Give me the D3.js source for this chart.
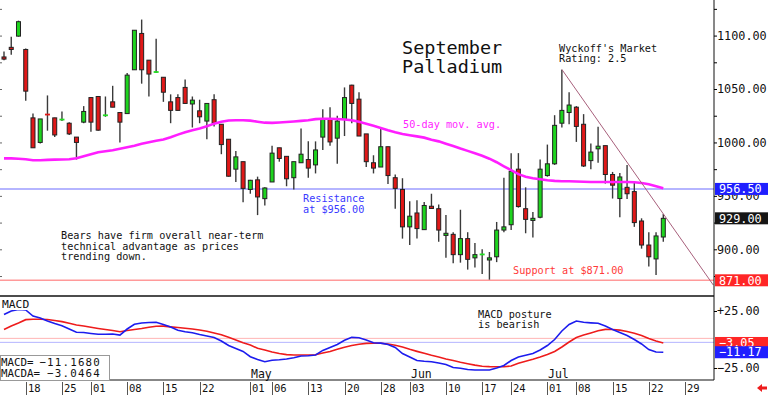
<!DOCTYPE html>
<html>
<head>
<meta charset="utf-8">
<script src="https://cdn.jsdelivr.net/npm/d3@7"></script>
<style>
  body { margin: 0; background: #fff; }
  svg { display: block; }
  text { font-family: "DejaVu Sans Mono", monospace; }
</style>
</head>
<body>
<div id="chart"></div>
<script>
// September Palladium daily candles, 50-day MA, MACD

const opens = [1080,1089,1099.5,1087,1023,1000,1026.2,1023,1021.5,1018,
  1005,1019,1042,1043,1025.5,1038,1028,1027,1068,1102,
  1077,1066,1061,1038,1042,1051.5,1036,1029.6,1020,1040,
  1017,1003,975,982,956,965,947.4,963,995,987,
  967,981,984,979,1005,1022,1004,1021.5,1053.6,1040.5,
  1008,981,977,996,967,956,921,934,918.4,940.3,
  938,913,914,895,910,892,895.3,890,893,918,
  923,975,938,927,930,969,980,1018,1028,1033,
  1017,983,994,997,970,947.5,958,954,926.5,904,
  891,911.5];
const highs = [1085,1099,1114,1088,1027,1022,1044,1023,1029,1019,
  1005,1034,1042,1043,1043,1053,1028,1065,1105,1115,
  1077,1097,1061,1045,1045,1059,1043,1040,1036.5,1045,
  1017,1003,992,982,965,968,958,997,995,987,
  982,1013,1001,1001,1031,1033,1025,1051.5,1054,1047,
  1008,988,1013,996,970,966.5,945,946,944.3,952,
  942,932,916,937,916,906,900,897.5,925.6,967,
  990,990,958,935,984,998,1025.5,1068,1047,1034,
  1026.5,999,1014.6,997,972.4,971.5,979,963,929,916,
  916,933];
const lows = [1077,1082,1099,1039,995,999,1011,1005,1020,1007,
  984,1018,1010,1011,1024,1033,1000,1027,1068,1055,
  1043,1065,1038,1018,1030,1036.5,1014,1018,1003,1015,
  989,968,963,944,952,932,941,963,982,959,
  956,981,967,971,993,997,980,1006,1018,1006,
  977,971,977,961,938,910,904,910,918,938,
  907,892,887,887.5,881,883,877,871.6,888,916,
  918,939,915,911,929,968,979,1014,1017,1000.5,
  977,975,981,961.5,947.5,930,947,921,900.6,884,
  876,907];
const closes = [1078,1087,1113,1048,995,1022,1026,1007,1021.5,1008,
  1000,1029,1019,1011.5,1025.5,1033,1019,1063,1105,1068,
  1064,1066,1047,1030,1030,1036.5,1039.6,1024,1036.5,1018,
  998,968.4,986.5,957,964.6,949,957.4,990,985,966,
  982,989,976,993,1022,1000.5,1020,1042,1036.5,1006,
  982,976,996,969,957,921,931,919.4,941,938.2,
  918,915,895,910,890.6,895,895.3,892,918,921,
  973,940,928,929,975,980,1016,1030,1035,1015,
  978,991,996.5,970,960,967.7,952,925,904,893,
  912.5,929];

const ma50 = [985.1,985.1,984.8,984.3,983.4,983.4,983.7,983.9,984.0,984.3,
  985.2,987.1,989.0,990.9,991.8,992.7,994.1,995.5,997.0,998.8,
  1000.2,1001.6,1002.8,1004.9,1007.3,1009.6,1011.5,1013.1,1015.2,1017.6,
  1019.4,1020.6,1020.8,1020.8,1020.4,1019.4,1018.5,1018.3,1018.7,1019.1,
  1019.6,1020.2,1020.8,1021.8,1022.2,1022.2,1022.0,1021.5,1020.8,1019.4,
  1017.6,1015.7,1013.6,1011.5,1009.6,1007.9,1006.8,1005.7,1004.5,1002.6,
  1001.0,998.8,996.7,994.3,992.1,989.9,987.6,984.8,981.5,977.7,
  974.0,970.3,967.9,966.5,965.6,964.6,964.0,963.7,963.7,963.5,
  963.2,963.0,963.0,963.0,963.0,963.0,963.0,962.8,962.0,960.9,
  959.0,957.2];

const macdLine = [21.9,25.0,26.3,25.9,20.6,18.9,16.2,14.0,12.0,9.2,
  6.4,6.1,5.3,4.6,4.6,4.8,3.9,9.2,13.3,14.5,
  14.9,15.1,13.2,11.0,8.1,6.8,5.9,4.4,3.1,1.8,
  -1.3,-5.3,-7.9,-10.5,-15.1,-17.5,-19.5,-18.2,-17.8,-17.1,
  -16.0,-14.5,-14.2,-13.6,-9.6,-7.0,-4.4,-0.7,1.9,1.6,
  -0.4,-2.8,-3.2,-4.4,-7.0,-12.3,-15.4,-18.4,-19.1,-19.5,
  -20.6,-21.9,-24.6,-25.2,-26.3,-26.8,-26.8,-26.8,-25.0,-22.8,
  -18.4,-15.4,-13.9,-12.3,-9.2,-5.3,0,7.5,13.2,16.2,
  15.1,14.6,14.2,11.8,8.8,6.1,3.5,0,-3.9,-8.8,
  -11.0,-11.17];
const macdSignal = [8.8,11.8,14.5,17.4,17.7,17.7,17.5,16.7,15.7,14.2,
  12.7,11.8,10.7,9.7,8.8,7.9,6.8,7.9,8.8,9.6,
  10.7,11.6,11.7,11.1,10.5,9.8,9.2,8.3,7.2,5.7,
  4.2,1.9,-0.4,-2.9,-4.8,-7.7,-9.2,-11.0,-12.3,-13.3,
  -13.6,-13.6,-13.6,-13.4,-11.8,-10.5,-8.6,-6.8,-5.3,-4.1,
  -3.4,-3.3,-3.3,-3.9,-5.0,-6.6,-8.6,-10.4,-12.1,-13.9,
  -15.4,-17.1,-18.4,-20.0,-21.3,-22.5,-23.4,-23.8,-23.9,-23.9,
  -23.2,-20.9,-19.0,-17.3,-15.4,-13.2,-10.5,-6.6,-2.2,1.8,
  3.9,5.7,7.6,8.9,8.8,8.2,7.0,5.4,3.5,0.9,
  -1.3,-3.05];

const priceTicks = [900, 950, 1000, 1050, 1100];
const priceMinorTicks = [875, 900, 925, 950, 975, 1000, 1025, 1050, 1075, 1100, 1125];
const macdTicks = [25, -25];
const dateTickIdx = [3, 8, 12, 17, 22, 27, 34, 37, 42, 47, 52, 56, 61, 66, 70, 75, 79, 84, 89, 94];
const dateTickLabels = ['18','25','01','08','15','22','01','06','13','20','28','03','10','17','24','01','08','15','22','29'];
const monthIdx = [34, 56, 75];
const monthLabels = ['May', 'Jun', 'Jul'];

const resistance = 956.5;
const support = 871;
const lastClose = 929;
const macdRefLevels = [1, -2.5];
const trendIdx = [77, 97.9];
const trendPrice = [1068.3, 866.6];

const W = 768, H = 396;
const plotRight = 714;
const mainTop = 0, mainBottom = 296, macdBottom = 380;

const svg = d3.select('#chart').append('svg')
  .attr('width', W).attr('height', H)
  .attr('viewBox', [0, 0, W, H]);

const x = d3.scaleLinear().domain([0, 91]).range([4, 4 + 91 * 7.245]);
const y = d3.scaleLinear().domain([856.3, 1133.3]).range([mainBottom, mainTop]);
const ym = d3.scaleLinear().domain([-25, 25]).range([368, 311]);

svg.append('defs').append('clipPath').attr('id', 'mainClip')
  .append('rect').attr('x', 0).attr('y', mainTop).attr('width', plotRight).attr('height', mainBottom - mainTop);

const main = svg.append('g').attr('clip-path', 'url(#mainClip)');

// resistance / support
main.append('line').attr('x1', 0).attr('x2', plotRight)
  .attr('y1', y(resistance)).attr('y2', y(resistance))
  .attr('stroke', '#9c9cff').attr('stroke-width', 1.5);
main.append('line').attr('x1', 0).attr('x2', plotRight)
  .attr('y1', y(support)).attr('y2', y(support))
  .attr('stroke', '#ff9a9a').attr('stroke-width', 1.5);

// candles
const candles = main.append('g');
for (let i = 0; i < closes.length; i++) {
  const cx = x(i);
  const up = closes[i] >= opens[i];
  candles.append('line')
    .attr('x1', cx).attr('x2', cx)
    .attr('y1', y(highs[i])).attr('y2', y(lows[i]))
    .attr('stroke', '#3a3a3a').attr('stroke-width', 1.4);
  const top = y(Math.max(opens[i], closes[i]));
  const h = Math.abs(y(opens[i]) - y(closes[i]));
  if (h < 1.5) {
    candles.append('rect')
      .attr('x', cx - 2.5).attr('y', top - 0.8)
      .attr('width', 5).attr('height', 1.8)
      .attr('fill', up ? '#22dd22' : '#e01818');
  } else {
    candles.append('rect')
      .attr('x', cx - 2).attr('y', top)
      .attr('width', 4).attr('height', h)
      .attr('fill', up ? '#1ed41e' : '#e01818')
      .attr('stroke', '#222').attr('stroke-width', 1);
  }
}

// 50-day moving average
main.append('path')
  .datum(ma50)
  .attr('fill', 'none')
  .attr('stroke', '#ff1eff')
  .attr('stroke-width', 2.6)
  .attr('d', d3.line().x((d, i) => x(i)).y(d => y(d)));

// downtrend line
main.append('line')
  .attr('x1', x(trendIdx[0])).attr('y1', y(trendPrice[0]))
  .attr('x2', x(trendIdx[1])).attr('y2', y(trendPrice[1]))
  .attr('stroke', '#a8607c').attr('stroke-width', 1);

// MACD panel
const macdG = svg.append('g');
macdG.append('line').attr('x1', 0).attr('x2', plotRight)
  .attr('y1', ym(macdRefLevels[0])).attr('y2', ym(macdRefLevels[0]))
  .attr('stroke', '#ffb4b4').attr('stroke-width', 1);
macdG.append('line').attr('x1', 0).attr('x2', plotRight)
  .attr('y1', ym(macdRefLevels[1])).attr('y2', ym(macdRefLevels[1]))
  .attr('stroke', '#b4b4ff').attr('stroke-width', 1);
macdG.append('path').datum(macdSignal)
  .attr('fill', 'none').attr('stroke', '#ee1c1c').attr('stroke-width', 1.6)
  .attr('d', d3.line().x((d, i) => x(i)).y(d => ym(d)));
macdG.append('path').datum(macdLine)
  .attr('fill', 'none').attr('stroke', '#1c1cee').attr('stroke-width', 1.6)
  .attr('d', d3.line().x((d, i) => x(i)).y(d => ym(d)));

// panel frame lines
svg.append('line').attr('x1', 0).attr('x2', plotRight).attr('y1', mainBottom).attr('y2', mainBottom)
  .attr('stroke', '#111').attr('stroke-width', 1.6);
svg.append('line').attr('x1', 0).attr('x2', plotRight).attr('y1', macdBottom).attr('y2', macdBottom)
  .attr('stroke', '#111').attr('stroke-width', 1.2);
svg.append('line').attr('x1', plotRight).attr('x2', plotRight).attr('y1', 0).attr('y2', macdBottom)
  .attr('stroke', '#111').attr('stroke-width', 1);

// left edge minor ticks
svg.append('g').call(d3.axisLeft(y).tickValues(priceMinorTicks).tickSize(-2).tickFormat(''))
  .call(g => g.select('.domain').remove())
  .call(g => g.selectAll('line').attr('stroke', '#666'));

// right price axis
svg.append('g').attr('transform', `translate(${plotRight},0)`)
  .call(d3.axisRight(y).tickValues(priceMinorTicks).tickSize(3).tickFormat(''))
  .call(g => g.select('.domain').remove());
svg.append('g').attr('transform', `translate(${plotRight},0)`)
  .call(d3.axisRight(y).tickValues(priceTicks).tickSize(0).tickPadding(3).tickFormat(d3.format('.2f')))
  .call(g => g.select('.domain').remove())
  .call(g => g.selectAll('text').attr('font-family', '"DejaVu Sans Mono", monospace')
    .attr('font-size', 11.8).attr('fill', '#111'));

// right MACD axis
svg.append('g').attr('transform', `translate(${plotRight},0)`)
  .call(d3.axisRight(ym).tickValues(macdTicks).tickSize(3).tickPadding(0).tickFormat(d => (d > 0 ? '+' : '') + d3.format('.2f')(d)))
  .call(g => g.select('.domain').remove())
  .call(g => g.selectAll('text').attr('font-family', '"DejaVu Sans Mono", monospace')
    .attr('font-size', 11.8).attr('fill', '#111'));

// value boxes on the axis
function valueBox(yy, label, bg) {
  const g = svg.append('g');
  g.append('rect').attr('x', plotRight + 1).attr('y', yy - 6).attr('width', W - plotRight - 1).attr('height', 12)
    .attr('fill', bg);
  g.append('text').attr('x', plotRight + 5).attr('y', yy).attr('dy', '0.36em')
    .attr('font-size', 11.8).attr('fill', '#fff').text(label);
}
valueBox(y(resistance), d3.format('.2f')(resistance), '#1f1fff');
valueBox(y(lastClose), d3.format('.2f')(lastClose), '#151515');
valueBox(y(support), d3.format('.2f')(support), '#ff2626');
valueBox(ym(macdSignal[macdSignal.length - 1]), d3.format('.2f')(macdSignal[macdSignal.length - 1]), '#ff2626');
valueBox(ym(macdLine[macdLine.length - 1]), d3.format('.2f')(macdLine[macdLine.length - 1]), '#1f1fff');

// date axis
const dateG = svg.append('g');
dateTickIdx.forEach((d, k) => {
  const xx = Math.round(x(d)) + 0.5;
  dateG.append('line').attr('x1', xx).attr('x2', xx).attr('y1', 382).attr('y2', 395)
    .attr('stroke', '#555').attr('stroke-width', 1);
  dateG.append('text').attr('x', xx + 1.5).attr('y', 392)
    .attr('font-size', 10.5).attr('fill', '#111').text(dateTickLabels[k]);
});
monthIdx.forEach((d, k) => {
  dateG.append('text').attr('x', Math.round(x(d)) + 1).attr('y', 378)
    .attr('font-size', 11.5).attr('fill', '#111').text(monthLabels[k]);
});

// small red arrow, bottom right
svg.append('path')
  .attr('d', 'M757,388 L762,384 L762,386.5 L767,386.5 L767,389.5 L762,389.5 L762,392 Z')
  .attr('fill', '#ee1c1c');

// annotations
function note(xx, yy, lines, size, color, lh) {
  lines.forEach((t, k) => {
    svg.append('text').attr('x', xx).attr('y', yy + k * lh)
      .attr('font-size', size).attr('fill', color).text(t);
  });
}
note(402, 54, ['September', 'Palladium'], 18.5, '#111', 18.7);
note(559, 51.7, ["Wyckoff's Market", 'Rating: 2.5'], 10.2, '#111', 10.6);
note(403, 127.7, ['50-day mov. avg.'], 10.2, '#ff1eff', 10.6);
note(303, 202.3, ['Resistance', 'at $956.00'], 10.2, '#3a3aff', 10.4);
note(61, 239, ['Bears have firm overall near-term', 'technical advantage as prices', 'trending down.'], 10.2, '#111', 10.5);
note(513, y(support) - 6.7, ['Support at $871.00'], 10.2, '#ff3a3a', 10);
note(478, 318.3, ['MACD posture', 'is bearish'], 10.2, '#111', 10);

// MACD panel title with white backing
svg.append('rect').attr('x', 0).attr('y', 298).attr('width', 30).attr('height', 12).attr('fill', '#fff');
svg.append('text').attr('x', 2).attr('y', 307.5).attr('font-size', 11.3).attr('fill', '#111').text('MACD');

// MACD readout box
const rb = svg.append('g');
rb.append('rect').attr('x', 0.5).attr('y', 355.5).attr('width', 109).attr('height', 25)
  .attr('fill', '#fff').attr('stroke', '#999');
rb.append('text').attr('x', 1).attr('y', 365.5).attr('font-size', 10.8).attr('fill', '#111').text('MACD=');
rb.append('text').attr('x', 1).attr('y', 377).attr('font-size', 10.8).attr('fill', '#111').text('MACDA=');
rb.append('text').attr('x', 101).attr('y', 365.5).attr('text-anchor', 'end').attr('font-size', 10.8)
  .attr('letter-spacing', 1.2).attr('fill', '#111').text(d3.format('.4f')(-11.168));
rb.append('text').attr('x', 101).attr('y', 377).attr('text-anchor', 'end').attr('font-size', 10.8)
  .attr('letter-spacing', 1.2).attr('fill', '#111').text(d3.format('.4f')(-3.0464));
</script>
</body>
</html>
